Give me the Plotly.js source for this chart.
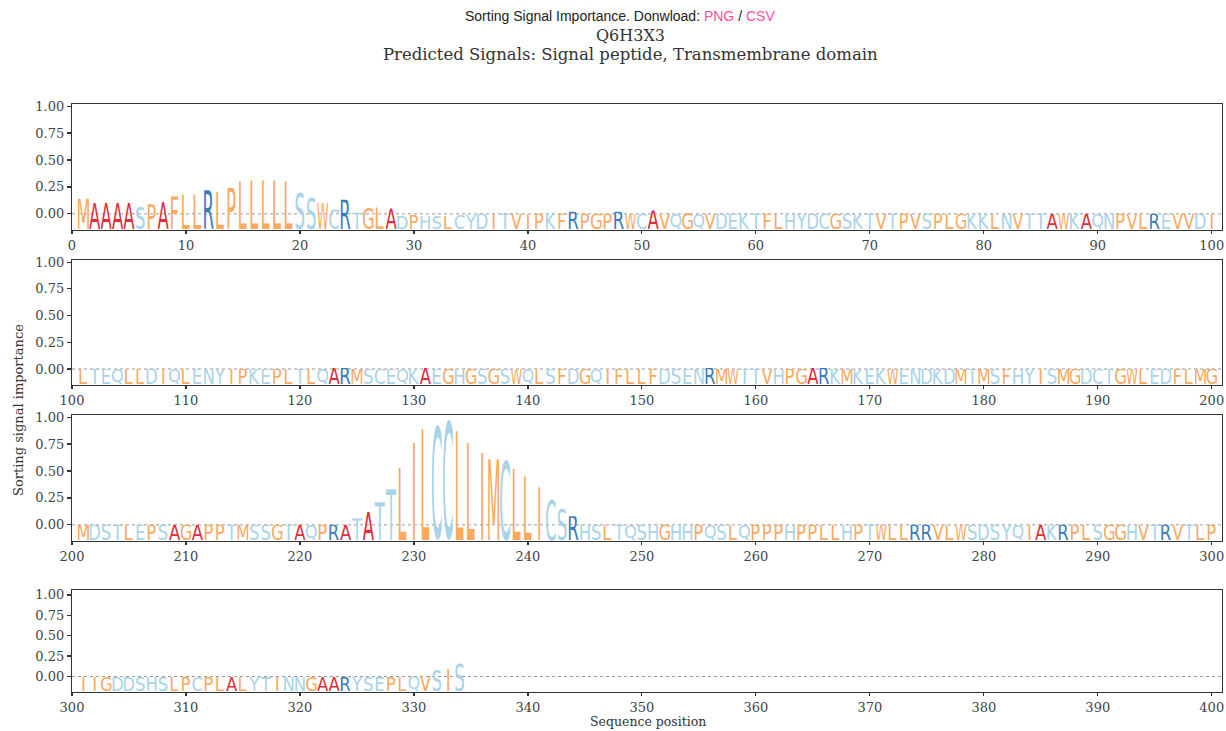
<!DOCTYPE html>
<html><head><meta charset="utf-8">
<script src="https://cdn.plot.ly/plotly-3.0.1.min.js"></script>
<style>body{margin:0;background:#fff}#chart{width:1226px;height:731px}</style>
</head><body><div id="chart"></div>
<script>
// ---------- data ----------
const rowStarts = [0, 100, 200, 300];
const seqRow1 = "MAAAASPAFLLRLPLLLLLSSWCRTGLADPHSLCYDITVIPKFRPGPRWCAVQGQVDEKTFLHYDCGSKTVTPVSPLGKKLNVTTAWKAQNPVLREVVDI";
const seqRow2 = "LTEQLLDIQLENYIPKEPLTLQARMSCEQKAEGHGSGSWQLSFDGQIFLLFDSENRMWTTVHPGARKMKEKWENDKDMTMSFHYISMGDCTGWLEDFLMG";
const seqRow3 = "MDSTLEPSAGAPPTMSSGTAQPRATATTLILCCLLIMCLLICSRHSLTQSHGHHPQSLQPPPHPPLLHPTWLLRRVLWSDSYQIAKRPLSGGHVTRVTLP";
const seqRow4 = "IIGDDSHSLPCPLALYTINNGAARYSEPLQVSIS";

const valRow1 = [
 0.14,0.10,0.10,0.10,0.10,0.07,0.09,0.11,0.16,0.18,
 0.18,0.22,0.20,0.24,0.30,0.31,0.31,0.31,0.30,0.21,
 0.15,0.10,0.04,0.13,0.01,0.06,0.06,0.05,-0.02,-0.01,
 -0.02,-0.02,-0.02,-0.01,-0.01,0,0,0,0,0,
 0,0,0,0.02,0,0,0,0.02,0,0,
 0.03,0,0,0.01,0,0,0,0,0,0,
 0,0,0,0,0,0,0,0,0,0,
 0,0,0,0,0,0,0,0,0,0,
 0,0,0,0,0,0,0,0,0,0,
 0,0,0,0,0,0,0,0,0,0];
const valRow2 = [
 0,0,0,0,0,0,0,0,0,0,
 0,0,0,0,0,0,0,0,0,0,
 0,0,0.01,0.01,0,0,0,0,0,0,
 0.01,0,0,0,0,0,0,0,0,0,
 0,0,0,0,0,0,0,0,0,0,
 0,0,0,0,0,0.01,0,0,0,0,
 0,0,0,0,0.01,0.01,0,0,0,0,
 0,0,0,0,0,0,0,0,0,0,
 0,0,0,0,0,0,0,0,0,0,
 0,0,0,0,0,0,0,0,0,0];
const valRow3 = [
 0,0,0,0,0,0,0,0,0,0,
 0,0,0,0,0,0,0,0,0,0,
 0,0,0,0,0.06,0.12,0.21,0.33,0.53,0.76,
 0.89,0.93,0.98,0.87,0.76,0.67,0.61,0.61,0.52,0.45,
 0.35,0.24,0.15,0.08,0,0,0,0,0,0,
 0,0,0,0,0,0,0,0,0,0,
 0,0,0,0,0,0,0,0,0,0,
 0,0,0,0,0,0,0,0,0,0,
 0,0,0,0,0,0,0,0,0,0,
 0,0,0,0,0,0,0,0,0,0];
const valRow4 = [
 0,0,0,0,0,0,0,0,0,0,
 0,0,0,0,0,0,0,0,0,0,
 0,0,0,0,0,0,0,0,0,0.0,
 0.01,0.08,0.09,0.17];

const seqs = [seqRow1, seqRow2, seqRow3, seqRow4];
const vals = [valRow1, valRow2, valRow3, valRow4];
const yTickVals = [0, 0.25, 0.5, 0.75, 1.0];
const yTickText = ["0.00", "0.25", "0.50", "0.75", "1.00"];
const xTickOffsets = [0, 10, 20, 30, 40, 50, 60, 70, 80, 90, 100];

// residue colour groups
const orangeRes = "MPFLGVIW";
const lightRes = "SHDCYQEKNT";
const redRes = "A";
const darkRes = "R";

// ---------- styling ----------
const COL = {orange: '#FBA95F', light: '#A9D3E8', red: '#DE2E3B', dark: '#3B7BBB'};
function colorOf(c) {
  if (redRes.includes(c)) return COL.red;
  if (darkRes.includes(c)) return COL.dark;
  if (orangeRes.includes(c)) return COL.orange;
  return COL.light;
}
const W = 1226, H = 731;
const xDom = [72 / W, 1222 / W];
const rowPx = [[104, 230], [260, 385], [415, 541], [590, 692]];
const yRanges = [[-0.15, 1.02], [-0.15, 1.02], [-0.15, 1.02], [-0.19, 1.06]];
const BASE = [-0.145, -0.145, -0.145, -0.18];

// glyph metrics via canvas (ink bounds)
const cv = document.createElement('canvas');
const ctx = cv.getContext('2d');
ctx.font = '200px "DejaVu Sans"';
function metrics(c) {
  const m = ctx.measureText(c);
  return {l: -m.actualBoundingBoxLeft, r: m.actualBoundingBoxRight, a: m.actualBoundingBoxAscent, d: m.actualBoundingBoxDescent};
}
const mRef = metrics('M');
const refW = mRef.r - mRef.l;
const glyphCache = {};
function glyphSrc(c) {
  if (glyphCache[c]) return glyphCache[c];
  const m = metrics(c);
  const w = m.r - m.l;
  const bw = Math.max(w, refW);
  const x0 = m.l - (bw - w) / 2;
  const svg = '<svg xmlns="http://www.w3.org/2000/svg" width="100" height="100" viewBox="' +
    x0 + ' ' + (-m.a) + ' ' + bw + ' ' + (m.a + m.d) + '" preserveAspectRatio="none">' +
    '<text x="0" y="0" font-family="DejaVu Sans" font-size="200" fill="' + colorOf(c) + '">' + c + '</text></svg>';
  const src = 'data:image/svg+xml;base64,' + btoa(svg);
  glyphCache[c] = src;
  return src;
}

const traces = [];
const images = [];
const shapes = [];
const layout = {
  width: W, height: H,
  margin: {l: 0, r: 0, t: 0, b: 0},
  paper_bgcolor: '#fff', plot_bgcolor: '#fff',
  showlegend: false,
  font: {family: 'DejaVu Serif', color: '#333'},
  annotations: [],
};

const axisCommon = {
  showline: true, mirror: true, linecolor: '#333', linewidth: 1.2,
  ticks: 'outside', ticklen: 4, tickwidth: 1.2, tickcolor: '#333',
  showgrid: false, zeroline: false, fixedrange: true,
  tickfont: {family: 'DejaVu Serif', size: 13, color: '#444'},
};

for (let k = 0; k < 4; k++) {
  const sfx = k === 0 ? '' : String(k + 1);
  const xa = 'x' + sfx, ya = 'y' + sfx;
  const start = rowStarts[k];
  const seq = seqs[k], v = vals[k];
  const xs = [], ys = [], tx = [];
  for (let i = 0; i < seq.length; i++) {
    const pos = start + i + 1;
    xs.push(pos); ys.push(v[i]); tx.push(seq[i] + pos);
    images.push({
      source: glyphSrc(seq[i]), xref: xa, yref: ya,
      x: pos, y: BASE[k], xanchor: 'center', yanchor: 'bottom',
      sizex: 0.98, sizey: v[i] - BASE[k], sizing: 'stretch', layer: 'above'
    });
  }
  traces.push({type: 'scatter', mode: 'markers', x: xs, y: ys, text: tx, hoverinfo: 'text',
    marker: {opacity: 0, size: 6}, xaxis: xa, yaxis: ya});
  const [pt, pb] = rowPx[k];
  layout['xaxis' + sfx] = Object.assign({}, axisCommon, {
    domain: xDom, anchor: ya, range: [start, start + 100.9],
    tickvals: xTickOffsets.map(o => start + o), ticktext: xTickOffsets.map(o => String(start + o)),
    ticklen: 3,
  });
  layout['yaxis' + sfx] = Object.assign({}, axisCommon, {
    domain: [1 - pb / H, 1 - pt / H], anchor: xa, range: yRanges[k],
    tickvals: yTickVals, ticktext: yTickText,
  });
  shapes.push({type: 'line', xref: xa + ' domain', yref: ya, x0: 0, x1: 1, y0: 0, y1: 0,
    line: {color: '#9a9a9a', width: 1, dash: 'dot'}, layer: 'below'});
}
layout.images = images;
layout.shapes = shapes;
layout.annotations = [
  {xref: 'paper', yref: 'paper', x: 620 / W, y: 1 - 16 / H, xanchor: 'center', yanchor: 'middle', showarrow: false,
   text: 'Sorting Signal Importance. Donwload: <span style="color:#ff4d9f">PNG</span> / <span style="color:#ff4d9f">CSV</span>',
   font: {family: 'Liberation Sans', size: 14, color: '#222'}},
  {xref: 'paper', yref: 'paper', x: 630 / W, y: 1 - 35 / H, xanchor: 'center', yanchor: 'middle', showarrow: false,
   text: 'Q6H3X3', font: {family: 'DejaVu Serif', size: 16, color: '#333'}},
  {xref: 'paper', yref: 'paper', x: 630 / W, y: 1 - 54 / H, xanchor: 'center', yanchor: 'middle', showarrow: false,
   text: 'Predicted Signals: Signal peptide, Transmembrane domain', font: {family: 'DejaVu Serif', size: 16.5, color: '#333'}},
  {xref: 'paper', yref: 'paper', x: 18 / W, y: 1 - 410 / H, xanchor: 'center', yanchor: 'middle', showarrow: false,
   textangle: -90, text: 'Sorting signal importance', font: {family: 'DejaVu Serif', size: 13, color: '#333'}},
  {xref: 'paper', yref: 'paper', x: 648 / W, y: 0, xanchor: 'center', yanchor: 'bottom', showarrow: false,
   text: 'Sequence position', font: {family: 'DejaVu Serif', size: 12.5, color: '#333'}},
];

Plotly.newPlot('chart', traces, layout, {displayModeBar: false, staticPlot: true});
</script>
</body></html>
